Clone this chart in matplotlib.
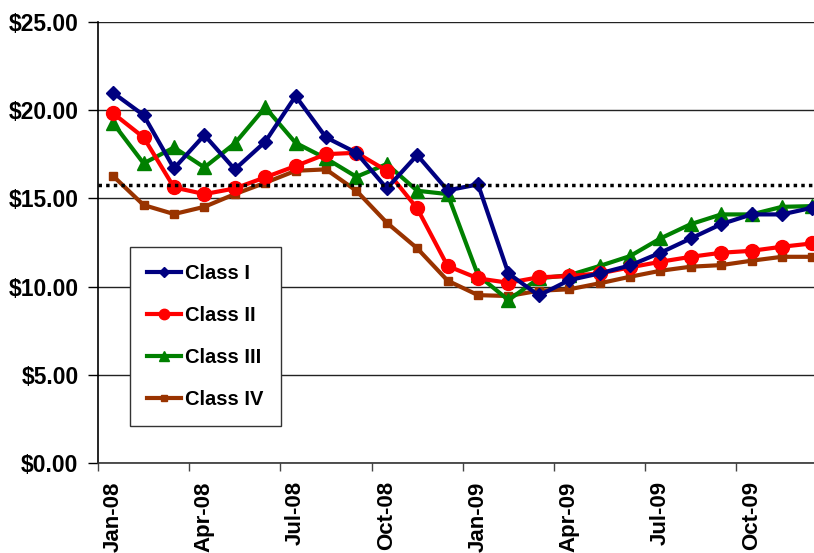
import numpy as np
import matplotlib
matplotlib.use('Agg')
import matplotlib.pyplot as plt

months = ['Jan-08', 'Feb-08', 'Mar-08', 'Apr-08', 'May-08', 'Jun-08',
          'Jul-08', 'Aug-08', 'Sep-08', 'Oct-08', 'Nov-08', 'Dec-08',
          'Jan-09', 'Feb-09', 'Mar-09', 'Apr-09', 'May-09', 'Jun-09',
          'Jul-09', 'Aug-09', 'Sep-09', 'Oct-09', 'Nov-09', 'Dec-09']

class1 = [20.97, 19.71, 16.69, 18.58, 16.64, 18.20, 20.79, 18.45, 17.58, 15.56, 17.45, 15.45,
          15.79, 10.75, 9.50, 10.37, 10.75, 11.20, 11.92, 12.73, 13.54, 14.09, 14.09, 14.47]
class2 = [19.81, 18.45, 15.62, 15.24, 15.56, 16.19, 16.83, 17.50, 17.58, 16.56, 14.43, 11.17,
          10.47, 10.22, 10.53, 10.60, 10.75, 11.09, 11.41, 11.69, 11.92, 12.03, 12.26, 12.45]
class3 = [19.25, 16.98, 17.88, 16.75, 18.11, 20.15, 18.14, 17.26, 16.22, 16.94, 15.43, 15.24,
          10.65, 9.24, 10.47, 10.65, 11.17, 11.73, 12.73, 13.54, 14.09, 14.09, 14.52, 14.56]
class4 = [16.26, 14.62, 14.11, 14.52, 15.24, 15.88, 16.56, 16.64, 15.43, 13.62, 12.17, 10.34,
          9.52, 9.47, 9.77, 9.85, 10.19, 10.56, 10.90, 11.13, 11.22, 11.47, 11.69, 11.69]
ref_level = 15.75

plt.rcParams['font.family'] = ['Liberation Sans', 'DejaVu Sans']
plt.rcParams['font.weight'] = 'bold'

fig = plt.figure(figsize=(8.14, 5.53), dpi=100)
# plot area runs a little past the right edge, as in the original
ax = fig.add_axes([98 / 814, 1 - 463.3 / 553, 729.6 / 814, (463.3 - 21.7) / 553])

x = np.arange(len(months))
ax.plot(x, class1, color='#000080', lw=3, marker='D', ms=7, label='Class I', zorder=5)
ax.plot(x, class2, color='#FF0000', lw=3, marker='o', ms=10, label='Class II', zorder=4)
ax.plot(x, class3, color='#008000', lw=3, marker='^', ms=10, label='Class III', zorder=3)
ax.plot(x, class4, color='#993300', lw=3, marker='s', ms=6, label='Class IV', zorder=2)
ax.axhline(ref_level, color='black', lw=2.5, ls=(0, (1, 1.2)), zorder=6)

ax.set_xlim(-0.5, len(months) - 0.5)
ax.set_ylim(0, 25)
ax.set_yticks(np.arange(0, 26, 5))
ax.set_yticklabels(['$%.2f' % v for v in np.arange(0, 26, 5)], fontsize=16.5, fontweight='bold')
ax.yaxis.grid(True, color='#222222', lw=1)
ax.set_axisbelow(True)

ax.set_xticks(x[::3])
ax.set_xticklabels(months[::3], rotation=90, fontsize=16, fontweight='bold')
ax.set_xticks(x[::3] - 0.5, minor=True)
ax.tick_params(axis='x', which='major', length=0, pad=13)
ax.tick_params(axis='x', which='minor', length=6, width=1, color='#444444', direction='out')
ax.tick_params(axis='y', length=7, width=1, pad=7)

for s in ['top', 'right']:
    ax.spines[s].set_visible(False)
ax.spines['left'].set_linewidth(1.2)
ax.spines['bottom'].set_linewidth(1.2)
ax.spines['bottom'].set_color('#333333')

leg = ax.legend(loc='upper left', bbox_to_anchor=(130 / 814, 1 - 246.7 / 553),
                bbox_transform=fig.transFigure, fancybox=False, framealpha=1,
                edgecolor='#333333', prop={'size': 14.5, 'weight': 'bold'},
                handlelength=1.7, handletextpad=0.2, labelspacing=1.15,
                borderpad=0.85, borderaxespad=0, markerscale=0.75)
leg.get_frame().set_linewidth(1)

fig.savefig('out.png', dpi=100)
